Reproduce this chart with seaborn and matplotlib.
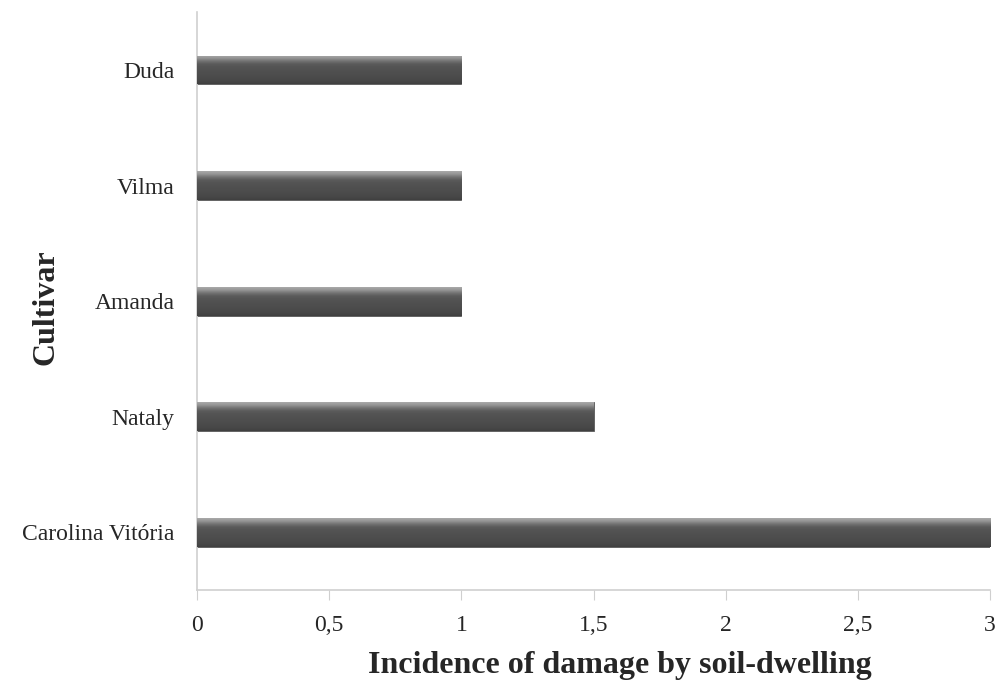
import numpy as np
import pandas as pd
import matplotlib.pyplot as plt
import matplotlib.colors as mcolors
import seaborn as sns

cultivars = ['Duda', 'Vilma', 'Amanda', 'Nataly', 'Carolina Vitória']
incidence = [1.0, 1.0, 1.0, 1.5, 3.0]
x_ticks = [0, 0.5, 1, 1.5, 2, 2.5, 3]

df = pd.DataFrame({'Cultivar': cultivars, 'Incidence': incidence})

sns.set_style('white')
plt.rcParams['font.family'] = ['Liberation Serif', 'DejaVu Serif']

fig = plt.figure(figsize=(9.97, 6.82), dpi=100)
ax = fig.add_axes([0.1976, 0.135, 0.7956, 0.847])

sns.barplot(data=df, x='Incidence', y='Cultivar', orient='h', color='#4a4a4a',
            width=0.25, ax=ax, order=cultivars)

# cylinder-like shading on each bar
grad = np.array([0.66, 0.58, 0.45, 0.36, 0.33, 0.32, 0.31, 0.30, 0.29, 0.28, 0.25])
cmap = mcolors.LinearSegmentedColormap.from_list('g', [(v, v, v) for v in grad])
for p in ax.patches:
    x0, y0 = p.get_x(), p.get_y()
    w, h = p.get_width(), p.get_height()
    im = ax.imshow(np.linspace(0, 1, 64).reshape(-1, 1), cmap=cmap, aspect='auto',
                   extent=[x0, x0 + w, y0 + h, y0], zorder=3, interpolation='bilinear')
    im.set_clip_path(p)
    p.set_edgecolor('#5a5a5a')
    p.set_linewidth(0.6)

ax.set_xlim(0, 3)
ax.set_ylim(4.5, -0.5)
ax.set_xticks(x_ticks)
ax.set_xticklabels([f'{t:g}'.replace('.', ',') for t in x_ticks], fontsize=17)
ax.tick_params(axis='x', which='both', bottom=True, length=7, color='#cfcfcf', pad=11)
ax.tick_params(axis='y', length=0, pad=16, labelsize=17)

for s in ['top', 'right']:
    ax.spines[s].set_visible(False)
for s in ['left', 'bottom']:
    ax.spines[s].set_color('#d0d0d0')
    ax.spines[s].set_linewidth(1.2)

ax.set_xlabel('Incidence of damage by soil-dwelling', fontsize=23, fontweight='bold')
ax.xaxis.set_label_coords(0.533, -0.105)
ax.set_ylabel('Cultivar', fontsize=23, fontweight='bold')
ax.yaxis.set_label_coords(-0.172, 0.49)

fig.savefig('out.png', dpi=100)
